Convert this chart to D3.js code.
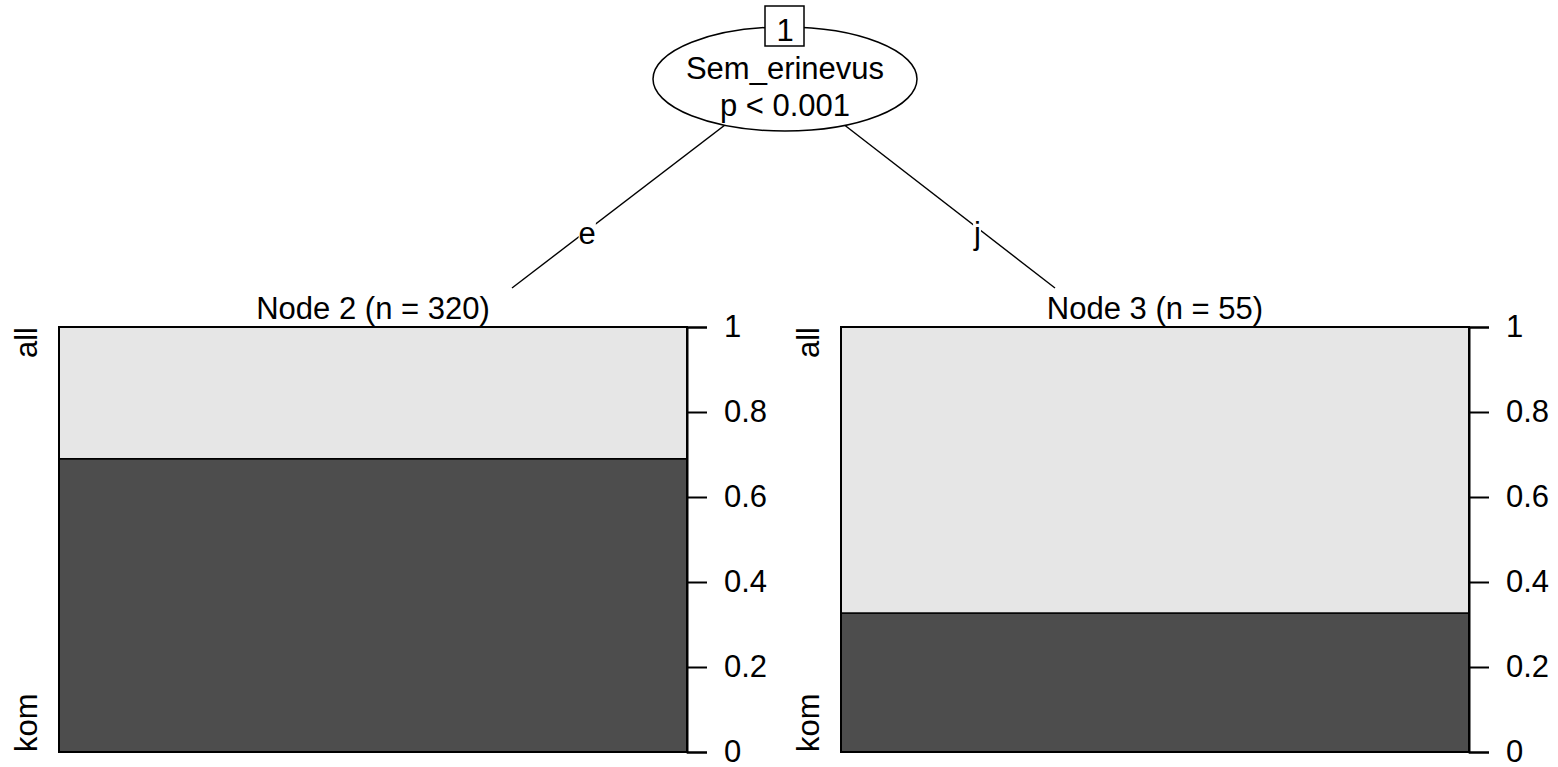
<!DOCTYPE html>
<meta charset="utf-8">
<head>
  <script type="text/javascript" src="https://cdn.jsdelivr.net/npm/d3@7/dist/d3.min.js"></script>
</head>
<style type="text/css">
  body {
    margin: 0;
    background: #fff;
  }
  svg text {
    font-family: "Liberation Sans", Arial, sans-serif;
    font-size: 31px;
    fill: #000;
  }
</style>
<body>
</body>
<script type="text/javascript">

var width = 1558,
    height = 767;

// split node
var splitVar = "Sem_erinevus";
var splitP = "p < 0.001";
var splitId = "1";

// terminal nodes
var nodeIds = [2, 3];
var nodeN = [320, 55];
var edgeLabels = ["e", "j"];
var levels = ["kom", "all"];          // bottom to top
var komShare = [0.69, 0.327];         // share of "kom" in each node
var tickValues = [0, 0.2, 0.4, 0.6, 0.8, 1];
var tickLabels = ["0", "0.2", "0.4", "0.6", "0.8", "1"];
var colors = ["#4d4d4d", "#e6e6e6"];

var svg = d3.select("body").append("svg")
    .attr("width", width)
    .attr("height", height);

// panel layout
var panelLeft = [59, 841],
    panelW = 628,
    panelTop = 327,
    panelBottom = 752;

var y = d3.scaleLinear()
    .domain([0, 1])
    .range([panelBottom, panelTop]);

var root = {x: 785, y: 79, rx: 132, ry: 52};
var edgeEnds = [512, 1055],
    edgeEndY = 288,
    edgeLabelY = 235,
    labelShift = [6, -9];   // labels sit a little inside the edge

// edges
var edges = svg.append("g").attr("class", "edges");
nodeIds.forEach(function(id, i) {
  edges.append("line")
    .attr("x1", root.x).attr("y1", root.y)
    .attr("x2", edgeEnds[i]).attr("y2", edgeEndY)
    .attr("stroke", "#000")
    .attr("stroke-width", 1.4);

  var t = (edgeLabelY - root.y) / (edgeEndY - root.y);
  var lx = root.x + t * (edgeEnds[i] - root.x) + labelShift[i];
  var lab = edges.append("text")
    .attr("x", lx)
    .attr("y", edgeLabelY + 9)
    .attr("text-anchor", "middle")
    .text(edgeLabels[i]);
  var bb = lab.node().getBBox();
  edges.insert("rect", function() { return lab.node(); })
    .attr("x", bb.x).attr("y", bb.y + 6)
    .attr("width", bb.width).attr("height", bb.height - 10)
    .attr("fill", "#fff");
});

// inner node
svg.append("ellipse")
  .attr("cx", root.x).attr("cy", root.y)
  .attr("rx", root.rx).attr("ry", root.ry)
  .attr("fill", "#fff")
  .attr("stroke", "#000")
  .attr("stroke-width", 1.5);

svg.append("text")
  .attr("x", root.x).attr("y", root.y)
  .attr("text-anchor", "middle")
  .text(splitVar);
svg.append("text")
  .attr("x", root.x).attr("y", root.y + 37)
  .attr("text-anchor", "middle")
  .text(splitP);

svg.append("rect")
  .attr("x", root.x - 20).attr("y", root.y - root.ry - 21)
  .attr("width", 39).attr("height", 40)
  .attr("fill", "#fff")
  .attr("stroke", "#000")
  .attr("stroke-width", 1.5);
svg.append("text")
  .attr("x", root.x).attr("y", root.y - root.ry + 14)
  .attr("text-anchor", "middle")
  .text(splitId);

// terminal panels
nodeIds.forEach(function(id, i) {
  var x0 = panelLeft[i], x1 = x0 + panelW;
  var g = svg.append("g").attr("class", "panel");

  g.append("text")
    .attr("x", (x0 + x1) / 2)
    .attr("y", panelTop - 8)
    .attr("text-anchor", "middle")
    .text("Node " + id + " (n = " + nodeN[i] + ")");

  var stack = [
    {lev: levels[0], y0: 0, y1: komShare[i]},
    {lev: levels[1], y0: komShare[i], y1: 1}
  ];

  g.selectAll("rect.bar")
    .data(stack)
    .enter().append("rect")
      .attr("class", "bar")
      .attr("x", x0)
      .attr("width", panelW)
      .attr("y", function(d) { return y(d.y1); })
      .attr("height", function(d) { return y(d.y0) - y(d.y1); })
      .attr("fill", function(d, k) { return colors[k]; })
      .attr("stroke", "#000")
      .attr("stroke-width", 1.5);

  g.append("rect")
    .attr("x", x0).attr("y", panelTop)
    .attr("width", panelW).attr("height", panelBottom - panelTop)
    .attr("fill", "none")
    .attr("stroke", "#000")
    .attr("stroke-width", 2);

  var axis = d3.axisRight(y)
    .tickValues(tickValues)
    .tickFormat(function(d, k) { return tickLabels[k]; })
    .tickSize(20)
    .tickPadding(17);

  var ax = g.append("g")
    .attr("transform", "translate(" + x1 + ",0)")
    .call(axis);
  ax.select(".domain").attr("stroke", "#000").attr("stroke-width", 2);
  ax.selectAll(".tick line").attr("stroke", "#000").attr("stroke-width", 2);
  ax.selectAll(".tick text")
    .attr("fill", "#000")
    .style("font-size", "31px")
    .style("font-family", "'Liberation Sans', Arial, sans-serif");

  // level labels on the left
  g.append("text")
    .attr("transform", "translate(" + (x0 - 22) + "," + panelTop + ") rotate(-90)")
    .attr("text-anchor", "end")
    .text(levels[1]);
  g.append("text")
    .attr("transform", "translate(" + (x0 - 22) + "," + panelBottom + ") rotate(-90)")
    .attr("text-anchor", "start")
    .text(levels[0]);
});

</script>
</html>
